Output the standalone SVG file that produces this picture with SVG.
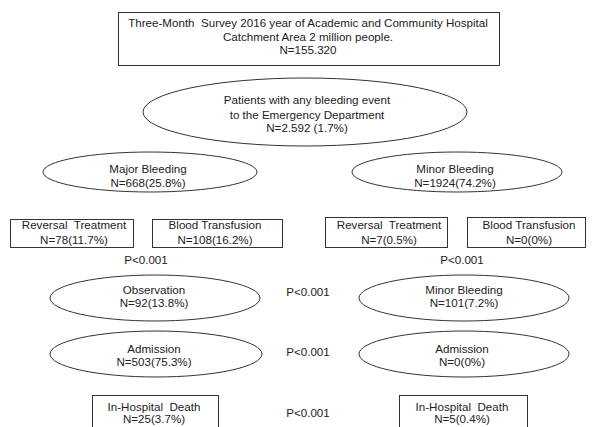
<svg xmlns="http://www.w3.org/2000/svg" width="592" height="427" viewBox="0 0 592 427">
<style>
.s{fill:#fff;stroke:#333;stroke-width:1}
text{font-family:"Liberation Sans",Arial,sans-serif;font-size:11.6px;fill:#222;text-anchor:middle;white-space:pre}
</style>
<rect width="592" height="427" fill="#fff"/>
<g id="survey"><rect class="s" x="118.5" y="12.5" width="381" height="53"/>
<text x="308" y="27" xml:space="preserve">Three-Month  Survey 2016 year of Academic and Community Hospital</text>
<text x="308" y="41">Catchment Area 2 million people.</text>
<text x="308" y="54">N=155.320</text></g>
<g id="patients"><ellipse class="s" cx="305" cy="112" rx="162" ry="34"/>
<text x="307" y="104">Patients with any bleeding event</text>
<text x="307" y="119">to the Emergency Department</text>
<text x="307" y="132">N=2.592 (1.7%)</text></g>
<g id="major"><ellipse class="s" cx="150" cy="172" rx="107" ry="20"/>
<text x="148" y="173">Major Bleeding</text>
<text x="148" y="187">N=668(25.8%)</text></g>
<g id="minor"><ellipse class="s" cx="457" cy="172" rx="105" ry="20"/>
<text x="455" y="173">Minor Bleeding</text>
<text x="455" y="187">N=1924(74.2%)</text></g>
<g id="rev-major"><rect class="s" x="10.5" y="219.5" width="123" height="28"/>
<text x="74" y="229" xml:space="preserve">Reversal  Treatment</text>
<text x="74" y="244">N=78(11.7%)</text></g>
<g id="blood-major"><rect class="s" x="152.5" y="219.5" width="130" height="28"/>
<text x="215" y="229">Blood Transfusion</text>
<text x="215" y="244">N=108(16.2%)</text></g>
<g id="rev-minor"><rect class="s" x="325.5" y="217.5" width="122" height="30"/>
<text x="389" y="229" xml:space="preserve">Reversal  Treatment</text>
<text x="389" y="244">N=7(0.5%)</text></g>
<g id="blood-minor"><rect class="s" x="467.5" y="217.5" width="118" height="30"/>
<text x="529" y="229">Blood Transfusion</text>
<text x="529" y="244">N=0(0%)</text></g>
<g id="p1"><text x="146" y="264">P&lt;0.001</text></g>
<g id="p2"><text x="462" y="264">P&lt;0.001</text></g>
<g id="observation"><ellipse class="s" cx="155" cy="298" rx="105" ry="23"/>
<text x="154" y="294">Observation</text>
<text x="154" y="307">N=92(13.8%)</text></g>
<g id="minor2"><ellipse class="s" cx="464" cy="298" rx="105" ry="23"/>
<text x="464" y="294">Minor Bleeding</text>
<text x="464" y="307">N=101(7.2%)</text></g>
<g id="admission-major"><ellipse class="s" cx="156" cy="354" rx="106" ry="23"/>
<text x="154" y="353">Admission</text>
<text x="154" y="366">N=503(75.3%)</text></g>
<g id="admission-minor"><ellipse class="s" cx="464" cy="354" rx="105" ry="23"/>
<text x="462" y="353">Admission</text>
<text x="462" y="366">N=0(0%)</text></g>
<g id="death-major"><rect class="s" x="92.5" y="395.5" width="126" height="34"/>
<text x="154" y="411" xml:space="preserve">In-Hospital  Death</text>
<text x="154" y="423">N=25(3.7%)</text></g>
<g id="death-minor"><rect class="s" x="399.5" y="395.5" width="128" height="34"/>
<text x="462" y="411" xml:space="preserve">In-Hospital  Death</text>
<text x="462" y="423">N=5(0.4%)</text></g>
<g id="pvals"><text x="308" y="296">P&lt;0.001</text>
<text x="308" y="356">P&lt;0.001</text>
<text x="308" y="417">P&lt;0.001</text></g>
<g id="connectors"></g>
</svg>
